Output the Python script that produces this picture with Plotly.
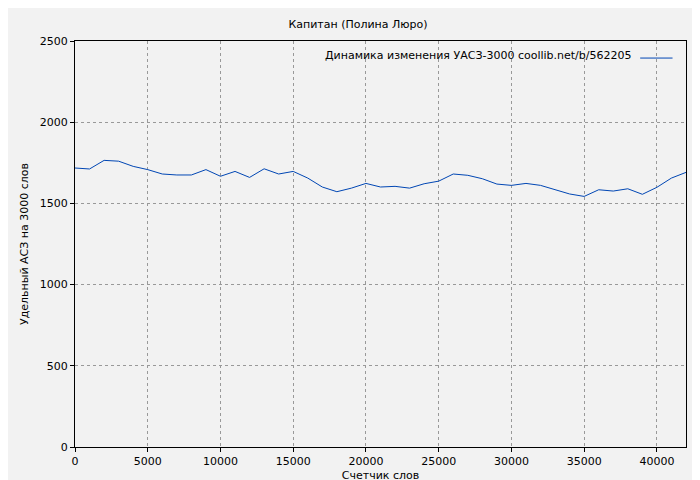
import plotly.graph_objects as go

words = list(range(0, 43000, 1000))
values = [1718, 1712, 1765, 1760, 1728, 1708, 1681, 1675, 1675, 1708, 1667, 1697, 1660, 1713,
          1681, 1697, 1656, 1601, 1572, 1594, 1623, 1601, 1605, 1594, 1621, 1637, 1681, 1673,
          1652, 1619, 1611, 1623, 1611, 1584, 1558, 1543, 1584, 1576, 1590, 1556, 1599, 1656, 1691]
series_name = "Динамика изменения УАСЗ-3000 coollib.net/b/562205"
line_color = "#0046b4"

font = "DejaVu Sans"
fig = go.Figure(go.Scatter(x=words, y=values, mode="lines",
                           line=dict(color=line_color, width=1), name=series_name))
grid = dict(showgrid=True, gridcolor="#999999", griddash="dot", gridwidth=1,
            zeroline=False, showline=True, linecolor="black", linewidth=1, mirror=True,
            ticks="outside", ticklen=4, tickcolor="black", automargin=False,
            tickfont=dict(size=11))
fig.update_layout(
    width=700, height=480, paper_bgcolor="#f2f2f2", plot_bgcolor="#f2f2f2",
    margin=dict(l=67, r=22, t=33, b=41, autoexpand=False),
    font=dict(family=font, size=11, color="black"),
    title=dict(text="Капитан (Полина Люро)", x=0.5, xanchor="center", y=0.975, font=dict(size=11)),
    showlegend=False,
    xaxis=dict(range=[0, 42000], dtick=5000, tickformat="d",
               title=dict(text="Счетчик слов", standoff=4, font=dict(size=11)), **grid),
    yaxis=dict(range=[0, 2500], dtick=500, tickformat="d",
               title=dict(text="Удельный АСЗ на 3000 слов", standoff=8, font=dict(size=11)), **grid),
)
fig.add_annotation(x=0.915, y=0.985, xref="paper", yref="paper", xanchor="right", yanchor="top",
                   text=series_name, showarrow=False, font=dict(size=11))
fig.add_shape(type="line", xref="paper", yref="paper", x0=0.925, x1=0.978, y0=0.958, y1=0.958,
              line=dict(color=line_color, width=1))
fig.write_html("out.html")
